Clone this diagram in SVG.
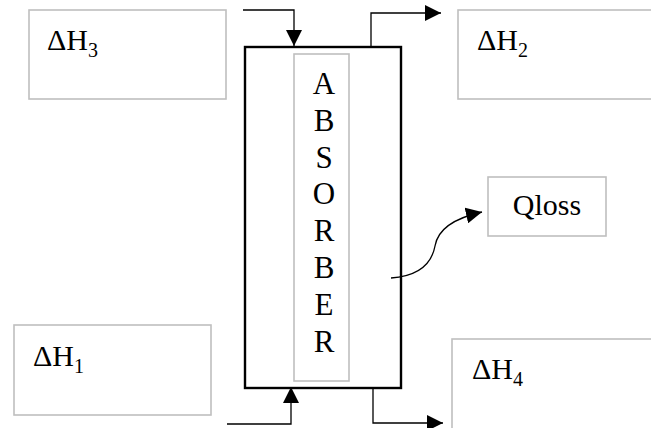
<svg xmlns="http://www.w3.org/2000/svg" width="651" height="428" viewBox="0 0 651 428">
<style>
.box{fill:#fff;stroke:#bfbfbf;stroke-width:1.6}
.t{font-family:"Liberation Serif","Times New Roman",serif;fill:#000;font-size:30px}
.sub{font-size:20px}
.ln{fill:none;stroke:#000;stroke-width:1.3}
</style>
<defs>
<marker id="ah" markerUnits="userSpaceOnUse" markerWidth="16" markerHeight="16" viewBox="0 0 16 16" refX="16" refY="8" orient="auto">
<path d="M0,0 L16,8 L0,16 Z" fill="#000"/>
</marker>
</defs>
<rect width="651" height="428" fill="#fff"/>
<g id="dh3"><rect class="box" x="29" y="10" width="197" height="89"/><text class="t" x="47" y="50">ΔH<tspan class="sub" dy="7">3</tspan></text></g>
<g id="dh2"><rect class="box" x="458" y="10" width="200" height="89"/><text class="t" x="477" y="50">ΔH<tspan class="sub" dy="7">2</tspan></text></g>
<g id="dh1"><rect class="box" x="14" y="325" width="197" height="90"/><text class="t" x="33" y="366">ΔH<tspan class="sub" dy="7">1</tspan></text></g>
<g id="dh4"><rect class="box" x="452" y="339" width="206" height="95"/><text class="t" x="472" y="379">ΔH<tspan class="sub" dy="7">4</tspan></text></g>
<g id="qloss"><rect class="box" x="488" y="177" width="118" height="59"/><text class="t" x="547" y="215" text-anchor="middle">Qloss</text></g>
<g id="absorber">
<rect x="245" y="47" width="156" height="341" fill="none" stroke="#000" stroke-width="2.4"/>
<rect class="box" x="294" y="54" width="55" height="327"/>
<text class="t" style="font-size:31px" text-anchor="middle" x="324">
<tspan x="324" y="94">A</tspan><tspan x="324" y="131">B</tspan><tspan x="324" y="168">S</tspan><tspan x="324" y="204">O</tspan><tspan x="324" y="241">R</tspan><tspan x="324" y="278">B</tspan><tspan x="324" y="315">E</tspan><tspan x="324" y="352">R</tspan>
</text>
</g>
<g id="connectors">
<path class="ln" d="M243,10 H294 V46" marker-end="url(#ah)"/>
<path class="ln" d="M371,47 V13 H441" marker-end="url(#ah)"/>
<path class="ln" d="M227,424 H291 V387" marker-end="url(#ah)"/>
<path class="ln" d="M373,388 V423 H443" marker-end="url(#ah)"/>
<path class="ln" d="M391,278 C420,276 432,262 435,246 C438,228 455,218 482,212" marker-end="url(#ah)"/>
</g>
</svg>
